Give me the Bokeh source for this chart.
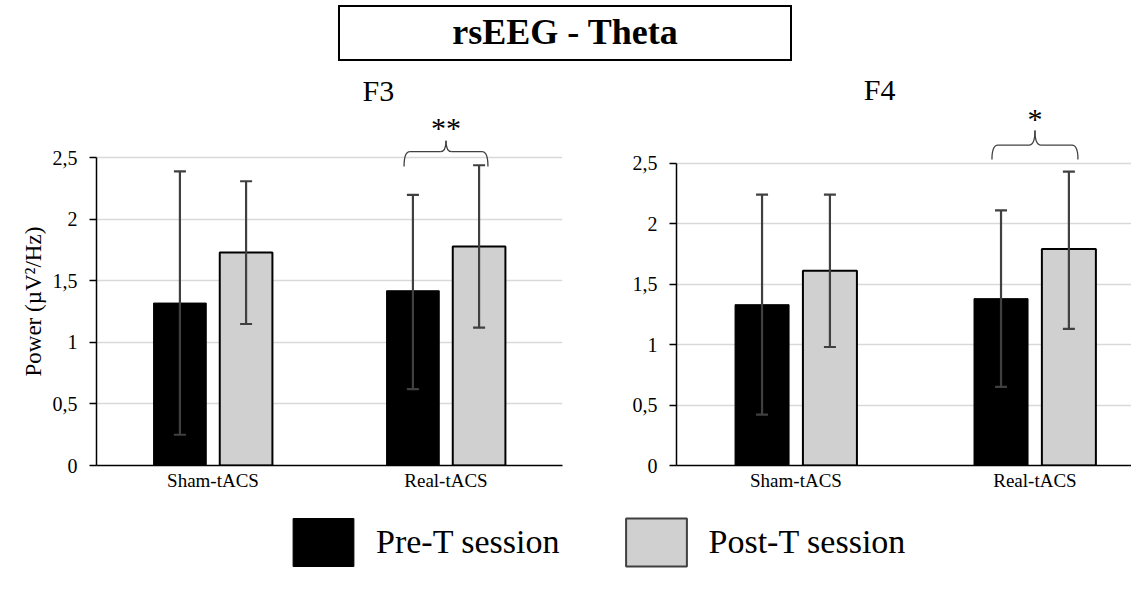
from bokeh.plotting import figure
from bokeh.models import (ColumnDataSource, Whisker, TeeHead, FixedTicker, Range1d,
                          Legend, LegendItem, Div, Label, Spacer, Title)
from bokeh.layouts import column, row
from bokeh.embed import file_html
from bokeh.resources import INLINE

# ---------------- data ----------------
categories = ["Sham-tACS", "Real-tACS"]
series_names = ["Pre-T session", "Post-T session"]

f3_pre = [1.32, 1.42]
f3_pre_lo = [0.25, 0.62]
f3_pre_hi = [2.39, 2.20]
f3_post = [1.73, 1.78]
f3_post_lo = [1.15, 1.12]
f3_post_hi = [2.31, 2.44]

f4_pre = [1.33, 1.38]
f4_pre_lo = [0.42, 0.65]
f4_pre_hi = [2.24, 2.11]
f4_post = [1.61, 1.79]
f4_post_lo = [0.98, 1.13]
f4_post_hi = [2.24, 2.43]

y_ticks = [0, 0.5, 1, 1.5, 2, 2.5]
y_tick_labels = ["0", "0,5", "1", "1,5", "2", "2,5"]
y_title = "Power (\u00b5V\u00b2/Hz)"

panel_names = ["F3", "F4"]
sig_marks = ["**", "*"]

FONT = "Liberation Serif"
PRE_COLOR = "#000000"
POST_COLOR = "#d0d0d0"
ERR_COLOR = "#404040"
NAN = float("nan")


def make_panel(pre, pre_lo, pre_hi, post, post_lo, post_hi, *, width, height,
               border_left, border_right, border_bottom, xmax, ymax, ylabel,
               name, name_x, name_y, sig, sig_cat, brace_y, brace_h, brace_peak, star_y):
    p = figure(width=width, height=height, x_range=Range1d(0, xmax), y_range=Range1d(0, ymax),
               toolbar_location=None, output_backend="svg",
               min_border_left=border_left, min_border_right=border_right,
               min_border_top=0, min_border_bottom=border_bottom)
    p.outline_line_color = None

    xc = [i + 0.5 for i in range(len(categories))]
    off = 0.142
    bw = 0.226
    src_pre = ColumnDataSource(dict(x=[c - off for c in xc], top=pre, lo=pre_lo, hi=pre_hi))
    src_post = ColumnDataSource(dict(x=[c + off for c in xc], top=post, lo=post_lo, hi=post_hi))

    p.vbar(x="x", top="top", width=bw, source=src_pre, fill_color=PRE_COLOR,
           line_color="#000000", line_width=1)
    p.vbar(x="x", top="top", width=bw, source=src_post, fill_color=POST_COLOR,
           line_color="#000000", line_width=2)

    for src in (src_pre, src_post):
        w = Whisker(base="x", upper="hi", lower="lo", source=src, level="overlay",
                    line_color=ERR_COLOR, line_width=2.2,
                    upper_head=TeeHead(size=12, line_color=ERR_COLOR, line_width=2.2),
                    lower_head=TeeHead(size=12, line_color=ERR_COLOR, line_width=2.2))
        p.add_layout(w)

    # axes
    p.yaxis.ticker = FixedTicker(ticks=y_ticks)
    p.yaxis.major_label_overrides = {t: l for t, l in zip(y_ticks, y_tick_labels)}
    p.yaxis.bounds = (y_ticks[0], y_ticks[-1])
    p.yaxis.major_tick_out = 7
    p.yaxis.major_tick_in = 0
    p.yaxis.minor_tick_line_color = None
    p.yaxis.major_tick_line_color = "#000000"
    p.yaxis.axis_line_color = "#000000"
    p.yaxis.axis_line_width = 1.5
    p.yaxis.major_tick_line_width = 1.5
    p.yaxis.major_label_text_font = FONT
    p.yaxis.major_label_text_font_size = "20px"
    p.yaxis.major_label_text_color = "#000000"
    p.yaxis.major_label_standoff = 12
    if ylabel:
        # axis title centred on the 0 - 2.5 span (as in the original), left of the tick labels
        t = Title(text=ylabel, align="left", offset=89, standoff=8,
                  text_font=FONT, text_font_size="23px", text_font_style="normal",
                  text_color="#000000")
        p.add_layout(t, "left")

    p.xaxis.ticker = FixedTicker(ticks=xc)
    p.xaxis.major_label_overrides = {c: l for c, l in zip(xc, categories)}
    p.xaxis.major_tick_line_color = None
    p.xaxis.minor_tick_line_color = None
    p.xaxis.major_tick_out = 0
    p.xaxis.major_tick_in = 0
    p.xaxis.axis_line_color = "#000000"
    p.xaxis.axis_line_width = 1.5
    p.xaxis.major_label_text_font = FONT
    p.xaxis.major_label_text_font_size = "19px"
    p.xaxis.major_label_text_color = "#000000"
    p.xaxis.major_label_standoff = 4

    p.xgrid.grid_line_color = None
    p.ygrid.ticker = FixedTicker(ticks=y_ticks[1:])
    p.ygrid.grid_line_color = "#d9d9d9"
    p.ygrid.grid_line_width = 1.6

    # panel name
    p.add_layout(Label(x=name_x, y=name_y, text=name, text_font=FONT, text_font_size="30px",
                       text_align="center", text_baseline="alphabetic", text_color="#000000"))

    # significance brace
    cx = sig_cat + 0.5
    hw = 0.18
    d = 0.025
    x0, x1 = cx - hw, cx + hw
    p.quadratic(x0=[x0, x1], y0=[brace_y, brace_y], x1=[x0 + d, x1 - d], y1=[brace_h, brace_h],
                cx=[x0, x1], cy=[brace_h, brace_h], line_color="#404040", line_width=1.3)
    p.segment(x0=[x0 + d, cx + d], y0=[brace_h, brace_h], x1=[cx - d, x1 - d], y1=[brace_h, brace_h],
              line_color="#404040", line_width=1.3)
    p.quadratic(x0=[cx - d, cx + d], y0=[brace_h, brace_h], x1=[cx, cx], y1=[brace_peak, brace_peak],
                cx=[cx, cx], cy=[brace_h, brace_h], line_color="#404040", line_width=1.3)
    p.add_layout(Label(x=cx, y=star_y, text=sig, text_font=FONT, text_font_size="30px",
                       text_align="center", text_baseline="middle", text_color="#000000"))
    return p


p1 = make_panel(f3_pre, f3_pre_lo, f3_pre_hi, f3_post, f3_post_lo, f3_post_hi,
                width=582, height=440, border_left=90, border_right=26, border_bottom=44,
                xmax=2.0, ymax=3.21, ylabel=y_title,
                name=panel_names[0], name_x=1.21, name_y=3.05,
                sig=sig_marks[0], sig_cat=1, brace_y=2.43, brace_h=2.55, brace_peak=2.64, star_y=2.75)

p2 = make_panel(f4_pre, f4_pre_lo, f4_pre_hi, f4_post, f4_post_lo, f4_post_hi,
                width=543, height=440, border_left=88, border_right=0, border_bottom=45,
                xmax=1.904, ymax=3.267, ylabel=None,
                name=panel_names[1], name_x=0.85, name_y=3.11,
                sig=sig_marks[1], sig_cat=1, brace_y=2.53, brace_h=2.65, brace_peak=2.77, star_y=2.87)

# title
title = Div(text=('<div style="margin-left:333px; width:454px; height:56px; border:2px solid #000;'
                  'display:flex; align-items:center; justify-content:center;'
                  'font-family:\'Liberation Serif\'; font-weight:bold; font-size:36px; color:#000;">'
                  'rsEEG - Theta</div>'),
            width=1131, height=60)

# legend strip
pl = figure(width=1131, height=74, x_range=Range1d(0, 1), y_range=Range1d(0, 1),
            toolbar_location=None, output_backend="svg", min_border=0)
pl.axis.visible = False
pl.grid.visible = False
pl.outline_line_color = None
r_pre = pl.vbar(x=[NAN], top=[NAN], width=0.1, fill_color=PRE_COLOR, line_color="#000000")
r_post = pl.vbar(x=[NAN], top=[NAN], width=0.1, fill_color=POST_COLOR, line_color="#404040",
                 line_width=2)
leg = Legend(items=[LegendItem(label=series_names[0], renderers=[r_pre]),
                    LegendItem(label=series_names[1], renderers=[r_post])],
             orientation="horizontal", location=(285, 12), glyph_width=76, glyph_height=60,
             label_height=60, label_text_font=FONT, label_text_font_size="34px",
             label_text_color="#000000", label_standoff=15, spacing=58, padding=0, margin=0,
             border_line_color=None, background_fill_alpha=0)
pl.add_layout(leg)

layout = column(title, row(Spacer(width=6, height=440), p1, p2), pl)

open("out.html", "w").write(file_html(layout, INLINE))
